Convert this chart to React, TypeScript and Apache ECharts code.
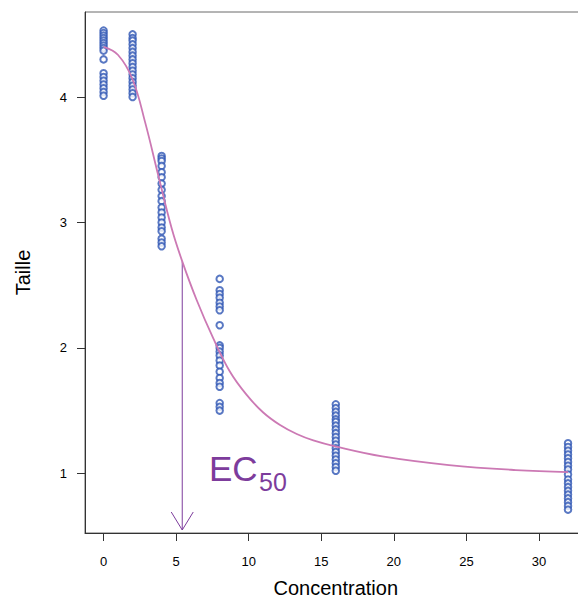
import React, { useEffect, useRef } from "react";
import * as echarts from "echarts";

// Observed concentrations and measured sizes ("Taille")
const concentrations = [0, 2, 4, 8, 16, 32];
const taille0 = [4.53, 4.51, 4.49, 4.47, 4.45, 4.43, 4.41, 4.39, 4.37, 4.30, 4.19, 4.16, 4.13, 4.10, 4.07, 4.04, 4.01];
const taille2 = [4.50, 4.47, 4.45, 4.42, 4.39, 4.36, 4.33, 4.30, 4.27, 4.24, 4.21, 4.18, 4.15, 4.12, 4.09, 4.06, 4.03, 4.00];
const taille4 = [3.53, 3.51, 3.49, 3.45, 3.40, 3.36, 3.31, 3.26, 3.21, 3.17, 3.12, 3.08, 3.04, 3.00, 2.96, 2.93, 2.87, 2.84, 2.81];
const taille8 = [2.55, 2.46, 2.43, 2.40, 2.36, 2.33, 2.30, 2.18, 2.02, 2.00, 1.97, 1.94, 1.90, 1.86, 1.81, 1.76, 1.72, 1.69, 1.56, 1.53, 1.50];
const taille16 = [1.55, 1.52, 1.49, 1.46, 1.43, 1.41, 1.38, 1.35, 1.32, 1.29, 1.26, 1.23, 1.20, 1.17, 1.14, 1.11, 1.08, 1.05, 1.02];
const taille32 = [1.24, 1.21, 1.18, 1.15, 1.12, 1.09, 1.06, 1.03, 0.99, 0.95, 0.92, 0.89, 0.86, 0.83, 0.80, 0.77, 0.74, 0.71];
const tailleByConc = [taille0, taille2, taille4, taille8, taille16, taille32];

// Fitted curve
const curveX = [0, 1, 2, 2.86, 3.78, 4.7, 5.42, 6.42, 7.56, 8.71, 9.86, 11.0, 12.16, 13.31, 14.45, 15.95, 19.2, 23.8, 28.4, 32];
const curveY = [4.40, 4.335, 4.14, 3.80, 3.37, 2.95, 2.69, 2.38, 2.075, 1.81, 1.625, 1.485, 1.385, 1.313, 1.262, 1.215, 1.135, 1.066, 1.026, 1.01];

// EC50 annotation
const ec50X = 5.42;
const ec50Y = 2.69;

// Axes
const xTicks = [0, 5, 10, 15, 20, 25, 30];
const yTicks = [1, 2, 3, 4];
const xMin = -1.28;
const xMax = 33.28;
const yMin = 0.524;
const yMax = 4.678;

const FONT = '"Liberation Sans", Arial, Helvetica, sans-serif';
const POINT_COLOR = "#2f56b4";
const CURVE_COLOR = "#cc79b4";
const EC_COLOR = "#7d3c9c";

export default function App() {
  const ref = useRef<HTMLDivElement>(null);

  useEffect(() => {
    if (!ref.current) return;
    const chart = echarts.init(ref.current, undefined, { renderer: "svg" });

    const points: number[][] = [];
    concentrations.forEach((c, i) => {
      tailleByConc[i].forEach((v) => points.push([c, v]));
    });
    const curve = curveX.map((x, i) => [x, curveY[i]]);

    chart.setOption({
      animation: false,
      backgroundColor: "#ffffff",
      grid: {
        left: 85,
        top: 12,
        width: 501.6,
        height: 521,
        show: true,
        borderColor: "#6a6a6a",
        borderWidth: 1,
        containLabel: false,
        outerBoundsMode: "none",
      },
      xAxis: {
        type: "value",
        min: xMin,
        max: xMax,
        name: "Concentration",
        nameLocation: "middle",
        nameGap: 45,
        nameTextStyle: { fontFamily: FONT, fontSize: 20, color: "#000" },
        axisLine: { show: true, onZero: false, lineStyle: { color: "#333", width: 1 } },
        axisTick: { show: true, length: 8, lineStyle: { color: "#333" }, customValues: xTicks },
        axisLabel: { fontFamily: FONT, fontSize: 13, color: "#000", margin: 22, customValues: xTicks },
        splitLine: { show: false },
      },
      yAxis: {
        type: "value",
        min: yMin,
        max: yMax,
        name: "Taille",
        nameLocation: "middle",
        nameRotate: 90,
        nameGap: 52,
        nameTextStyle: { fontFamily: FONT, fontSize: 20, color: "#000" },
        axisLine: { show: true, onZero: false, lineStyle: { color: "#333", width: 1 } },
        axisTick: { show: true, length: 8, lineStyle: { color: "#333" }, customValues: yTicks },
        axisLabel: { fontFamily: FONT, fontSize: 13, color: "#000", margin: 18, customValues: yTicks },
        splitLine: { show: false },
      },
      series: [
        {
          type: "scatter",
          data: points,
          symbol: "emptyCircle",
          symbolSize: 6.5,
          itemStyle: { borderColor: POINT_COLOR, borderWidth: 1, color: POINT_COLOR },
          silent: true,
        },
        {
          type: "line",
          data: curve,
          showSymbol: false,
          smooth: 0.4,
          lineStyle: { color: CURVE_COLOR, width: 1.8 },
          silent: true,
        },
        {
          type: "custom",
          data: [[ec50X, ec50Y]],
          silent: true,
          renderItem: (params: any, api: any) => {
            const top = api.coord([api.value(0), api.value(1)]);
            const bot = api.coord([api.value(0), yMin]);
            const tipY = bot[1] - 3;
            return {
              type: "group",
              children: [
                {
                  type: "line",
                  shape: { x1: top[0], y1: top[1], x2: top[0], y2: tipY },
                  style: { stroke: EC_COLOR, lineWidth: 1 },
                },
                {
                  type: "polyline",
                  shape: {
                    points: [
                      [bot[0] - 11, tipY - 18],
                      [bot[0], tipY],
                      [bot[0] + 11, tipY - 18],
                    ],
                  },
                  style: { stroke: EC_COLOR, fill: "none", lineWidth: 1 },
                },
              ],
            };
          },
        },
      ],
      graphic: [
        {
          type: "text",
          left: 209,
          top: 451,
          style: { text: "EC", fontFamily: FONT, fontSize: 35, fill: EC_COLOR },
        },
        {
          type: "text",
          left: 259,
          top: 469,
          style: { text: "50", fontFamily: FONT, fontSize: 25, fill: EC_COLOR },
        },
      ],
    });

    return () => chart.dispose();
  }, []);

  return (
    <div
      ref={ref}
      style={{ position: "fixed", left: 0, top: 0, width: 578, height: 598, background: "#fff" }}
    />
  );
}
